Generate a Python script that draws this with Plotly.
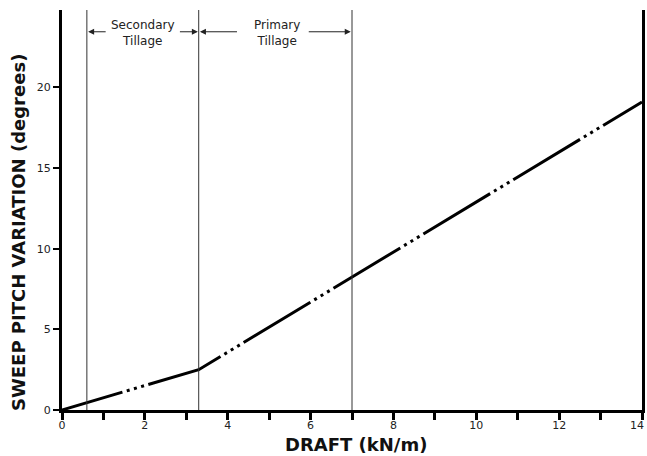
import plotly.graph_objects as go

# Data
draft = [0.0, 3.3, 14.0]           # kN/m
pitch = [0.0, 2.5, 19.1]           # degrees
boundaries = [0.6, 3.3, 7.0]       # vertical region dividers
region_labels = ["Secondary<br>Tillage", "Primary<br>Tillage"]
region_label_x = [1.96, 5.19]
x_ticks = [0, 2, 4, 6, 8, 10, 12, 14]
y_ticks = [0, 5, 10, 15, 20]
x_title = "DRAFT (kN/m)"
y_title = "SWEEP PITCH VARIATION (degrees)"

fig = go.Figure()
fig.add_trace(go.Scatter(
    x=draft, y=pitch, mode="lines",
    line=dict(color="black", width=3,
              dash="78px,4.5px,3px,4.5px,3px,4.5px,3px,4.5px"),
    showlegend=False, hoverinfo="skip"))

for b in boundaries:
    fig.add_shape(type="line", x0=b, x1=b, xref="x", y0=0, y1=1, yref="paper",
                  line=dict(color="#333", width=1))

font_small = dict(family="DejaVu Sans", size=11, color="#222")
font_lab = dict(family="DejaVu Sans", size=12, color="#222")

# Region labels
for lab, lx in zip(region_labels, region_label_x):
    fig.add_annotation(x=lx, y=23.4, xref="x", yref="y", text=lab, showarrow=False,
                       font=font_lab, align="center")

# Arrows: (tail, head) pairs in data x
arrow_pairs = [(1.09, 0.63), (2.81, 3.28), (4.26, 3.33), (5.92, 6.97)]
for tail, head in arrow_pairs:
    fig.add_annotation(x=head, y=23.45, ax=tail, ay=23.45, xref="x", yref="y",
                       axref="x", ayref="y", text="", showarrow=True,
                       arrowhead=2, arrowsize=1.2, arrowwidth=1, arrowcolor="#222")

# Last x tick label sits just inside the right edge (as in the reference)
fig.add_annotation(x=x_ticks[-1], y=0, xref="x", yref="paper", xshift=4, yshift=-15,
                   text=str(x_ticks[-1]), showarrow=False, xanchor="right",
                   yanchor="middle", font=font_small)

# Axis titles placed as annotations for precise position
fig.add_annotation(x=0, y=0.4425, xref="paper", yref="paper", xshift=-44,
                   text="<b>" + y_title + "</b>", textangle=-90, showarrow=False,
                   xanchor="center", yanchor="middle",
                   font=dict(family="DejaVu Sans", size=18, color="#111"))
fig.add_annotation(x=0.507, y=0, xref="paper", yref="paper", yshift=-34,
                   text="<b>" + x_title + "</b>", showarrow=False,
                   xanchor="center", yanchor="middle",
                   font=dict(family="DejaVu Sans", size=18, color="#111"))

fig.update_layout(
    width=647, height=456,
    margin=dict(l=62, r=5, t=10, b=46, autoexpand=False),
    paper_bgcolor="white", plot_bgcolor="white",
    xaxis=dict(range=[0, 14], tickvals=x_ticks[:-1], showgrid=False, zeroline=False,
               automargin=False, ticklabelstandoff=-4,
               showline=True, linecolor="black", linewidth=3,
               ticks="outside", ticklen=7, tickwidth=3, tickcolor="black",
               minor=dict(dtick=1, ticks="outside", ticklen=7, tickwidth=3, tickcolor="black"),
               tickfont=font_small),
    yaxis=dict(range=[0, 24.8], tickvals=y_ticks, showgrid=False, zeroline=False,
               automargin=False,
               showline=True, linecolor="black", linewidth=3, mirror=True,
               ticks="outside", ticklen=6, tickwidth=2, tickcolor="black",
               tickfont=font_small),
)

post = """
document.body.style.margin='0';
document.querySelectorAll('.scatterlayer path.js-line').forEach(function(p){p.style.strokeDashoffset='15px';});
"""
fig.write_html("out.html", post_script=post, config={"displayModeBar": False})
